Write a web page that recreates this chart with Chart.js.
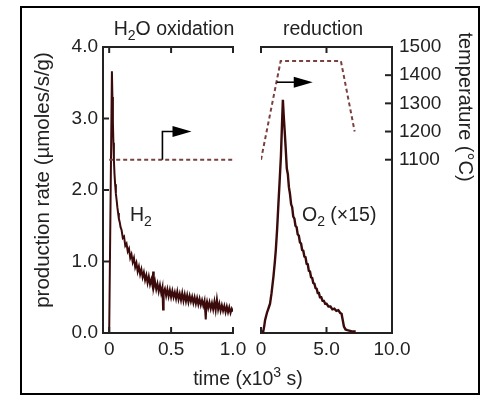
<!DOCTYPE html>
<html>
<head>
<meta charset="utf-8">
<script src="https://cdn.jsdelivr.net/npm/chart.js@4/dist/chart.umd.min.js"></script>
<style>
  body { margin: 0; background: #fff; }
  #wrap { position: relative; width: 481px; height: 397px; }
  #wrap canvas { position: absolute; left: 0; top: 0; }
</style>
</head>
<body>
<div id="wrap">
  <canvas id="oxChart" width="481" height="397"></canvas>
  <canvas id="redChart" width="481" height="397"></canvas>
</div>
<script>
// tick values and labels
const oxTicks = [0, 0.5, 1.0];
const oxTickLabels = ['0', '0.5', '1.0'];
const redTicks = [0, 5, 10];
const redTickLabels = ['0', '5.0', '10.0'];
const rateTicks = [0, 1, 2, 3, 4];
const rateTickLabels = ['0.0', '1.0', '2.0', '3.0', '4.0'];
const tempTicks = [1100, 1200, 1300, 1400, 1500];
const tempTickLabels = ['1100', '1200', '1300', '1400', '1500'];

// H2 production during H2O oxidation (time in 10^3 s, rate in umoles/s/g)
const h2Time = [0.000, 0.022, 0.026, 0.030, 0.034, 0.038, 0.043, 0.048, 0.054, 0.060,
  0.066, 0.072, 0.078, 0.085, 0.092, 0.10, 0.11, 0.12, 0.13, 0.14,
  0.15, 0.16, 0.17, 0.18, 0.19, 0.20, 0.21, 0.22, 0.23, 0.24,
  0.25, 0.26, 0.27, 0.28, 0.29, 0.30, 0.31, 0.32, 0.33, 0.34,
  0.35, 0.355, 0.36, 0.37, 0.38, 0.39, 0.40, 0.41, 0.42, 0.43,
  0.435, 0.44, 0.45, 0.46, 0.47, 0.48, 0.49, 0.50, 0.51, 0.52,
  0.53, 0.54, 0.55, 0.56, 0.57, 0.58, 0.59, 0.60, 0.61, 0.62,
  0.63, 0.64, 0.65, 0.66, 0.67, 0.68, 0.69, 0.70, 0.71, 0.72,
  0.73, 0.74, 0.75, 0.76, 0.77, 0.78, 0.785, 0.79, 0.80, 0.81,
  0.82, 0.83, 0.84, 0.85, 0.86, 0.87, 0.88, 0.89, 0.90, 0.91,
  0.92, 0.93, 0.94, 0.95, 0.96, 0.97, 0.98, 0.99, 1.00];
const h2Rate = [0.00, 3.66, 3.30, 2.95, 2.66, 2.42, 2.22, 2.08, 1.95, 1.86,
  1.76, 1.68, 1.60, 1.55, 1.48, 1.44, 1.33, 1.35, 1.22, 1.25,
  1.14, 1.18, 1.05, 1.10, 0.99, 1.05, 0.92, 0.98, 0.86, 0.93,
  0.82, 0.89, 0.78, 0.85, 0.74, 0.81, 0.70, 0.79, 0.68, 0.75,
  0.66, 0.86, 0.64, 0.72, 0.61, 0.69, 0.58, 0.67, 0.56, 0.64,
  0.33, 0.57, 0.62, 0.52, 0.61, 0.51, 0.60, 0.50, 0.59, 0.50,
  0.57, 0.48, 0.58, 0.47, 0.55, 0.46, 0.56, 0.45, 0.54, 0.44,
  0.53, 0.43, 0.52, 0.44, 0.51, 0.42, 0.50, 0.41, 0.49, 0.40,
  0.48, 0.39, 0.46, 0.38, 0.45, 0.19, 0.40, 0.44, 0.35, 0.43,
  0.34, 0.42, 0.33, 0.44, 0.32, 0.47, 0.33, 0.41, 0.31, 0.39,
  0.31, 0.38, 0.29, 0.37, 0.29, 0.36, 0.28, 0.34, 0.30];

// O2 production during reduction (x15)
const o2Time = [0.00, 0.05, 0.15, 0.25, 0.31, 0.45, 0.60, 0.69, 0.80, 0.95,
  1.05, 1.13, 1.23, 1.33, 1.43, 1.52, 1.60, 1.67, 1.73, 1.80,
  1.88, 1.97, 2.05, 2.13, 2.21, 2.30, 2.38, 2.46, 2.55, 2.63,
  2.72, 2.80, 2.89, 2.97, 3.06, 3.14, 3.23, 3.31, 3.40, 3.48,
  3.57, 3.65, 3.74, 3.82, 3.91, 3.99, 4.08, 4.16, 4.25, 4.33,
  4.42, 4.50, 4.60, 4.70, 4.80, 4.90, 5.00, 5.15, 5.30, 5.45,
  5.60, 5.75, 5.90, 6.05, 6.15, 6.22, 6.33, 6.45, 6.59, 6.80,
  7.00, 7.23];
const o2Rate = [0.00, 0.02, 0.00, 0.10, 0.18, 0.28, 0.36, 0.41, 0.55, 0.79,
  0.98, 1.16, 1.45, 1.81, 2.15, 2.47, 2.90, 3.26, 3.05, 2.85,
  2.60, 2.30, 2.22, 2.04, 1.95, 1.80, 1.76, 1.63, 1.60, 1.50,
  1.48, 1.38, 1.36, 1.27, 1.25, 1.16, 1.15, 1.07, 1.06, 0.97,
  0.96, 0.87, 0.86, 0.78, 0.77, 0.70, 0.69, 0.63, 0.62, 0.56,
  0.56, 0.50, 0.50, 0.45, 0.45, 0.41, 0.41, 0.37, 0.37, 0.33,
  0.34, 0.31, 0.32, 0.28, 0.27, 0.20, 0.09, 0.05, 0.04, 0.03,
  0.02, 0.02];

// furnace temperature (deg C)
const tempOxTime = [0, 1.0];
const tempOxValue = [1100, 1100];
const tempRedTime = [0, 1.5, 6.1, 7.15];
const tempRedValue = [1100, 1450, 1450, 1200];

// arrows pointing to the temperature axis
const arrowOxTime = [0.43, 0.43, 0.665];
const arrowOxTemp = [1100, 1200, 1200];
const arrowRedTime = [1.2, 3.95];
const arrowRedTemp = [1375, 1375];

const FONT = '"Liberation Sans", Arial, sans-serif';
const INK = '#222';
const LINE = '#3b0a0a';
const DASH = '#7b4040';
const TEXT_SIZE = 19.5;
const SMALL_SIZE = 14;

function toXY(xs, ys) {
    return xs.map((x, i) => ({ x: x, y: ys[i] }));
}

function line(ctx, x1, y1, x2, y2) {
    ctx.beginPath();
    ctx.moveTo(x1, y1);
    ctx.lineTo(x2, y2);
    ctx.stroke();
}

// text with optional sub/superscript runs
function drawRuns(ctx, runs, x, y, align) {
    let total = 0;
    runs.forEach(r => {
        ctx.font = (r.sub || r.sup ? SMALL_SIZE : TEXT_SIZE) + 'px ' + FONT;
        r.w = ctx.measureText(r.t).width;
        total += r.w;
    });
    let cx = align === 'center' ? x - total / 2 : x;
    ctx.textAlign = 'left';
    ctx.textBaseline = 'alphabetic';
    runs.forEach(r => {
        ctx.font = (r.sub || r.sup ? SMALL_SIZE : TEXT_SIZE) + 'px ' + FONT;
        const dy = r.sub ? 5 : (r.sup ? -8 : 0);
        ctx.fillText(r.t, cx, y + dy);
        cx += r.w;
    });
}

function drawArrow(ctx, xScale, yScale, times, temps) {
    const pts = times.map((t, i) => [xScale.getPixelForValue(t), yScale.getPixelForValue(temps[i])]);
    const n = pts.length;
    const [tx, ty] = pts[n - 1];
    const headLen = 19, headHalf = 5.5;
    ctx.save();
    ctx.strokeStyle = '#000';
    ctx.fillStyle = '#000';
    ctx.lineWidth = 1.6;
    ctx.beginPath();
    ctx.moveTo(pts[0][0], pts[0][1]);
    for (let i = 1; i < n - 1; i++) ctx.lineTo(pts[i][0], pts[i][1]);
    ctx.lineTo(tx - headLen + 1, ty);
    ctx.stroke();
    ctx.beginPath();
    ctx.moveTo(tx, ty);
    ctx.lineTo(tx - headLen, ty - headHalf);
    ctx.lineTo(tx - headLen, ty + headHalf);
    ctx.closePath();
    ctx.fill();
    ctx.restore();
}

function tickOpts(labels, pad) {
    return {
        autoSkip: false,
        maxRotation: 0,
        padding: pad,
        font: { family: FONT, size: 19 },
        color: INK,
        callback: (v, i) => labels[i]
    };
}

const gridOpts = { drawOnChartArea: false, drawTicks: false };
const borderOpts = { display: true, color: INK, width: 2 };

// left panel: H2O oxidation
new Chart(document.getElementById('oxChart'), {
    type: 'scatter',
    data: {
        datasets: [{
            data: toXY(tempOxTime, tempOxValue),
            xAxisID: 'x', yAxisID: 'temp',
            showLine: true, borderColor: DASH, borderWidth: 2, borderDash: [4, 3],
            pointRadius: 0
        }, {
            data: toXY(h2Time, h2Rate),
            xAxisID: 'x', yAxisID: 'y',
            showLine: true, borderColor: LINE, borderWidth: 2,
            pointRadius: 0
        }]
    },
    options: {
        responsive: false,
        animation: false,
        layout: { padding: { left: 0, right: 248, top: 0, bottom: 0 } },
        plugins: { legend: { display: false }, tooltip: { enabled: false } },
        scales: {
            x: {
                type: 'linear', position: 'bottom', min: -0.05, max: 1.0,
                afterBuildTicks: s => { s.ticks = oxTicks.map(v => ({ value: v })); },
                afterFit: s => { s.height = 64; },
                ticks: tickOpts(oxTickLabels, 5),
                grid: gridOpts, border: borderOpts
            },
            xTop: {
                type: 'linear', position: 'top', min: -0.05, max: 1.0,
                afterFit: s => { s.height = 47; },
                ticks: { display: false },
                grid: gridOpts, border: borderOpts
            },
            y: {
                type: 'linear', position: 'left', min: 0, max: 4,
                afterBuildTicks: s => { s.ticks = rateTicks.map(v => ({ value: v })); },
                afterFit: s => { s.width = 103; },
                ticks: tickOpts(rateTickLabels, 5),
                grid: gridOpts, border: borderOpts
            },
            temp: { type: 'linear', axis: 'y', position: 'right', display: false, min: 485, max: 1500 }
        }
    },
    plugins: [{
        id: 'oxDecor',
        afterDraw(chart) {
            const { ctx, chartArea: a, scales } = chart;
            ctx.save();
            // outer frame
            ctx.strokeStyle = '#000';
            ctx.lineWidth = 2;
            ctx.strokeRect(21, 7, 458, 387);
            // inward ticks
            ctx.strokeStyle = INK;
            ctx.lineWidth = 2;
            oxTicks.forEach(v => {
                const px = scales.x.getPixelForValue(v);
                line(ctx, px, a.bottom, px, a.bottom - 6);
                line(ctx, px, a.top, px, a.top + 6);
            });
            rateTicks.forEach(v => {
                const py = scales.y.getPixelForValue(v);
                line(ctx, a.left, py, a.left + 6, py);
            });
            ctx.fillStyle = INK;
            drawRuns(ctx, [{ t: 'H' }, { t: '2', sub: true }, { t: 'O oxidation' }], 174, 35, 'center');
            drawRuns(ctx, [{ t: 'H' }, { t: '2', sub: true }], 130, 221, 'left');
            drawRuns(ctx, [{ t: 'time (x10' }, { t: '3', sup: true }, { t: ' s)' }], 248, 385, 'center');
            // y axis title
            ctx.translate(43, 180);
            ctx.rotate(-Math.PI / 2);
            ctx.font = '20.5px ' + FONT;
            ctx.textAlign = 'center';
            ctx.textBaseline = 'middle';
            ctx.fillText('production rate (\u00b5moles/s/g)', 0, 0);
            ctx.restore();
            drawArrow(ctx, scales.x, scales.temp, arrowOxTime, arrowOxTemp);
        }
    }]
});

// right panel: reduction
new Chart(document.getElementById('redChart'), {
    type: 'scatter',
    data: {
        datasets: [{
            data: toXY(tempRedTime, tempRedValue),
            xAxisID: 'x', yAxisID: 'temp',
            showLine: true, borderColor: DASH, borderWidth: 2, borderDash: [4, 3],
            pointRadius: 0
        }, {
            data: toXY(o2Time, o2Rate),
            xAxisID: 'x', yAxisID: 'y',
            showLine: true, borderColor: LINE, borderWidth: 2.4,
            pointRadius: 0
        }]
    },
    options: {
        responsive: false,
        animation: false,
        layout: { padding: { left: 261, right: 0, top: 0, bottom: 0 } },
        plugins: { legend: { display: false }, tooltip: { enabled: false } },
        scales: {
            x: {
                type: 'linear', position: 'bottom', min: 0, max: 10,
                afterBuildTicks: s => { s.ticks = redTicks.map(v => ({ value: v })); },
                afterFit: s => { s.height = 64; },
                ticks: tickOpts(redTickLabels, 5),
                grid: gridOpts, border: borderOpts
            },
            xTop: {
                type: 'linear', position: 'top', min: 0, max: 10,
                afterFit: s => { s.height = 47; },
                ticks: { display: false },
                grid: gridOpts, border: borderOpts
            },
            temp: {
                type: 'linear', axis: 'y', position: 'right', min: 485, max: 1500,
                afterBuildTicks: s => { s.ticks = tempTicks.map(v => ({ value: v })); },
                afterFit: s => { s.width = 89; },
                ticks: tickOpts(tempTickLabels, 7),
                grid: gridOpts, border: borderOpts
            },
            y: { type: 'linear', position: 'left', display: false, min: 0, max: 4 }
        }
    },
    plugins: [{
        id: 'redDecor',
        afterDraw(chart) {
            const { ctx, chartArea: a, scales } = chart;
            ctx.save();
            ctx.strokeStyle = INK;
            ctx.lineWidth = 2;
            redTicks.forEach(v => {
                const px = scales.x.getPixelForValue(v);
                line(ctx, px, a.bottom, px, a.bottom - 6);
                line(ctx, px, a.top, px, a.top + 6);
            });
            tempTicks.forEach(v => {
                const py = scales.temp.getPixelForValue(v);
                line(ctx, a.right, py, a.right - 7, py);
            });
            ctx.fillStyle = INK;
            drawRuns(ctx, [{ t: 'reduction' }], 323, 35, 'center');
            drawRuns(ctx, [{ t: 'O' }, { t: '2', sub: true }, { t: ' (\u00d715)' }], 302, 221, 'left');
            // right axis title
            ctx.translate(465, 107);
            ctx.rotate(Math.PI / 2);
            ctx.font = '20px ' + FONT;
            ctx.textAlign = 'center';
            ctx.textBaseline = 'middle';
            ctx.fillText('temperature (\u00b0C)', 0, 0);
            ctx.restore();
            drawArrow(ctx, scales.x, scales.temp, arrowRedTime, arrowRedTemp);
        }
    }]
});
</script>
</body>
</html>
